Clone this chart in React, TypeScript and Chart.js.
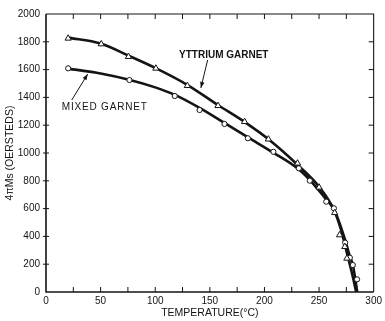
import React, { useEffect, useRef } from "react";
import { Chart, registerables } from "chart.js";

Chart.register(...registerables);

// Measured points (triangles = Yttrium garnet, circles = Mixed garnet)
const yttriumTemp = [20.3, 50.6, 75.5, 100.6, 129.4, 157.5, 181.8, 203.6, 230.3, 250, 264.3, 268.8, 273.6, 275.5];
const yttriumMs = [1825, 1784, 1693, 1609, 1484, 1340, 1225, 1099, 926, 753, 570, 410, 326, 242];

const mixedTemp = [20.3, 76.4, 117.9, 140.6, 163.4, 184.8, 208.2, 231.5, 241.5, 256.6, 263.6, 273.9, 278.2, 280.9, 284.8];
const mixedMs = [1609, 1525, 1410, 1309, 1209, 1106, 1009, 890, 801, 650, 602, 355, 247, 194, 91];

// Hand-drawn fitted curves
const yttriumCurveTemp = [20, 50, 75, 100, 130, 157, 182, 204, 230, 250, 264, 270, 276, 280, 284];
const yttriumCurveMs = [1830, 1787, 1702, 1612, 1487, 1347, 1222, 1097, 917, 757, 585, 450, 265, 140, 0];

const mixedCurveTemp = [20, 50, 76, 100, 118, 141, 163, 185, 208, 231, 242, 257, 264, 274, 278, 281, 285];
const mixedCurveMs = [1607, 1572, 1527, 1472, 1418, 1323, 1218, 1112, 1003, 885, 802, 662, 590, 372, 262, 192, 0];

const xTickLabels = [0, 50, 100, 150, 200, 250, 300];
const yTickLabels = [0, 200, 400, 600, 800, 1000, 1200, 1400, 1600, 1800, 2000];

const xTitle = "TEMPERATURE(°C)";
const yTitle = "4πMs (OERSTEDS)";
const yttriumLabel = "YTTRIUM GARNET";
const mixedLabel = "MIXED GARNET";

const INK = "#141414";
const FONT = "'Liberation Sans', Arial, sans-serif";

const toPts = (xs: number[], ys: number[]) => xs.map((x, i) => ({ x, y: ys[i] }));

function arrow(ctx: CanvasRenderingContext2D, x1: number, y1: number, x2: number, y2: number) {
  ctx.beginPath();
  ctx.moveTo(x1, y1);
  ctx.lineTo(x2, y2);
  ctx.stroke();
  const a = Math.atan2(y2 - y1, x2 - x1);
  const L = 6, W = 2.2;
  ctx.beginPath();
  ctx.moveTo(x2, y2);
  ctx.lineTo(x2 - L * Math.cos(a) + W * Math.sin(a), y2 - L * Math.sin(a) - W * Math.cos(a));
  ctx.lineTo(x2 - L * Math.cos(a) - W * Math.sin(a), y2 - L * Math.sin(a) + W * Math.cos(a));
  ctx.closePath();
  ctx.fill();
}

const framePlugin = {
  id: "frame",
  beforeDatasetsDraw(chart: any) {
    const { ctx, chartArea: ca, scales } = chart;
    const xs = scales.x, ys = scales.y;
    ctx.save();
    ctx.strokeStyle = INK;
    ctx.lineWidth = 1.6;
    ctx.beginPath();
    ctx.moveTo(ca.left, ca.top);
    ctx.lineTo(ca.left, ca.bottom);
    ctx.lineTo(ca.right, ca.bottom);
    ctx.stroke();
    ctx.lineWidth = 1.1;
    ctx.beginPath();
    ctx.moveTo(ca.left, ca.top);
    ctx.lineTo(ca.right, ca.top);
    ctx.lineTo(ca.right, ca.bottom);
    ctx.stroke();
    ctx.lineWidth = 1;
    ctx.beginPath();
    for (let v = 25; v < 300; v += 25) {
      const px = xs.getPixelForValue(v);
      ctx.moveTo(px, ca.bottom);
      ctx.lineTo(px, ca.bottom - 5);
      ctx.moveTo(px, ca.top);
      ctx.lineTo(px, ca.top + 5);
    }
    for (let v = 200; v < 2000; v += 200) {
      const py = ys.getPixelForValue(v);
      ctx.moveTo(ca.left - 3, py);
      ctx.lineTo(ca.left + 3, py);
      ctx.moveTo(ca.right, py);
      ctx.lineTo(ca.right - 5, py);
    }
    ctx.stroke();
    ctx.restore();
  },
  afterDatasetsDraw(chart: any) {
    const { ctx, scales } = chart;
    const xs = scales.x, ys = scales.y;
    const X = (v: number) => xs.getPixelForValue(v);
    const Y = (v: number) => ys.getPixelForValue(v);
    ctx.save();
    ctx.fillStyle = INK;
    ctx.strokeStyle = INK;
    ctx.lineWidth = 1;
    ctx.textBaseline = "middle";
    ctx.textAlign = "left";
    ctx.font = `bold 10px ${FONT}`;
    ctx.fillText(yttriumLabel, X(121.8), Y(1705));
    arrow(ctx, X(148), Y(1669), X(141.8), Y(1468));
    ctx.font = `10px ${FONT}`;
    (ctx as any).letterSpacing = "0.8px";
    ctx.fillText(mixedLabel, X(14.5), Y(1331));
    (ctx as any).letterSpacing = "0px";
    arrow(ctx, X(23.6), Y(1381), X(38.2), Y(1568));
    ctx.restore();
  },
};

export default function App() {
  const ref = useRef<HTMLCanvasElement | null>(null);
  useEffect(() => {
    if (!ref.current) return;
    const tickFont = { family: FONT, size: 10 };
    const chart = new Chart(ref.current, {
      type: "scatter",
      data: {
        datasets: [
          {
            label: "Yttrium garnet points",
            data: toPts(yttriumTemp, yttriumMs),
            pointStyle: "triangle",
            pointRadius: 3.6,
            borderColor: INK,
            backgroundColor: "#ffffff",
            borderWidth: 1,
            showLine: false,
            order: 0,
          },
          {
            label: "Mixed garnet points",
            data: toPts(mixedTemp, mixedMs),
            pointStyle: "circle",
            pointRadius: 2.6,
            borderColor: INK,
            backgroundColor: "#ffffff",
            borderWidth: 1,
            showLine: false,
            order: 0,
          },
          {
            label: "Yttrium garnet",
            data: toPts(yttriumCurveTemp, yttriumCurveMs),
            showLine: true,
            pointRadius: 0,
            borderColor: INK,
            borderWidth: 2.6,
            cubicInterpolationMode: "monotone",
            order: 1,
          },
          {
            label: "Mixed garnet",
            data: toPts(mixedCurveTemp, mixedCurveMs),
            showLine: true,
            pointRadius: 0,
            borderColor: INK,
            borderWidth: 2.6,
            cubicInterpolationMode: "monotone",
            order: 1,
          },
        ],
      },
      options: {
        animation: false,
        responsive: false,
        maintainAspectRatio: false,
        layout: { padding: { top: 14, right: 8, left: 0, bottom: 0 } },
        plugins: { legend: { display: false }, tooltip: { enabled: false } },
        scales: {
          x: {
            type: "linear",
            min: 0,
            max: 300,
            afterBuildTicks: (s: any) => {
              s.ticks = xTickLabels.map((v) => ({ value: v }));
            },
            afterFit: (s: any) => {
              s.height = 29;
            },
            ticks: { font: tickFont, color: INK, padding: 3, maxRotation: 0, callback: (v: any) => String(v) },
            grid: { display: false, drawTicks: false },
            border: { display: false },
            title: {
              display: true,
              text: xTitle,
              color: INK,
              font: { family: FONT, size: 10.5 },
              padding: { top: 0, bottom: 2 },
            },
          },
          y: {
            type: "linear",
            min: 0,
            max: 2000,
            afterBuildTicks: (s: any) => {
              s.ticks = yTickLabels.map((v) => ({ value: v }));
            },
            afterFit: (s: any) => {
              s.width = 46;
            },
            ticks: { font: tickFont, color: INK, padding: 6, callback: (v: any) => String(v) },
            grid: { display: false, drawTicks: false },
            border: { display: false },
            title: {
              display: true,
              text: yTitle,
              color: INK,
              font: { family: FONT, size: 10.5 },
              padding: { top: 4, bottom: 0 },
            },
          },
        },
      },
      plugins: [framePlugin],
    } as any);
    return () => chart.destroy();
  }, []);
  return (
    <div style={{ position: "fixed", left: 0, top: 0, width: 385, height: 321, background: "#fff" }}>
      <canvas ref={ref} width={385} height={321} style={{ width: 385, height: 321, display: "block" }} />
    </div>
  );
}
